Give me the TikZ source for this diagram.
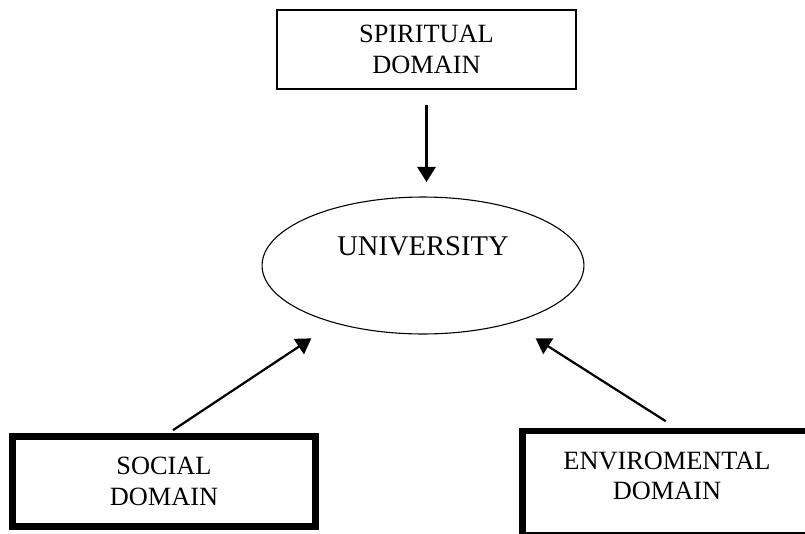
\documentclass[tikz,border=0pt]{standalone}
\usepackage{fontspec}
\setmainfont{Liberation Serif}
\usetikzlibrary{shapes.geometric,arrows.meta}

\begin{document}
\begin{tikzpicture}[x=0.016cm,y=-0.016cm,
        domainbox/.style={draw=black,rectangle,inner sep=0pt,align=center,font=\fontsize{12}{14}\selectfont},
        thinbox/.style={domainbox,line width=0.6pt},
        thickbox/.style={domainbox,line width=3pt},
        arr/.style={-{Triangle[length=0.24cm,width=0.29cm]},line width=1pt}]
        \useasboundingbox (0,0) rectangle (805,533);
        \clip (0,0) rectangle (805,533);
        \node[thinbox,minimum width=4.784cm,minimum height=1.264cm] (spirit) at (426.5,49.5) {SPIRITUAL\\DOMAIN};
        \node[ellipse,draw=black,line width=0.5pt,inner sep=0pt,minimum width=5.152cm,minimum height=2.192cm,
            font=\fontsize{13}{15}\selectfont] (univ) at (423,265.5) {\raisebox{0.168cm}[0pt][0pt]{UNIVERSITY}};
        \node[thickbox,minimum width=4.848cm,minimum height=1.44cm] (social) at (164,481.5) {SOCIAL\\DOMAIN};
        \node[thickbox,anchor=west,minimum width=6cm,minimum height=1.664cm] (env) at (519,483) {};
        \node[domainbox,draw=none] (envtext) at (667,476) {ENVIROMENTAL\\DOMAIN};
        \draw[arr,shorten <=0.246cm,shorten >=0.232cm] (spirit.south) -- (spirit.south |- univ.north);
        \draw[arr,shorten <=0.09cm,shorten >=0.44cm] ([xshift=0.07cm]social.north) -- (univ.213);
        \draw[arr,shorten <=0.195cm,shorten >=0.452cm] ([xshift=0.144cm]envtext.north |- env.north) -- (univ.327);
\end{tikzpicture}
\end{document}
